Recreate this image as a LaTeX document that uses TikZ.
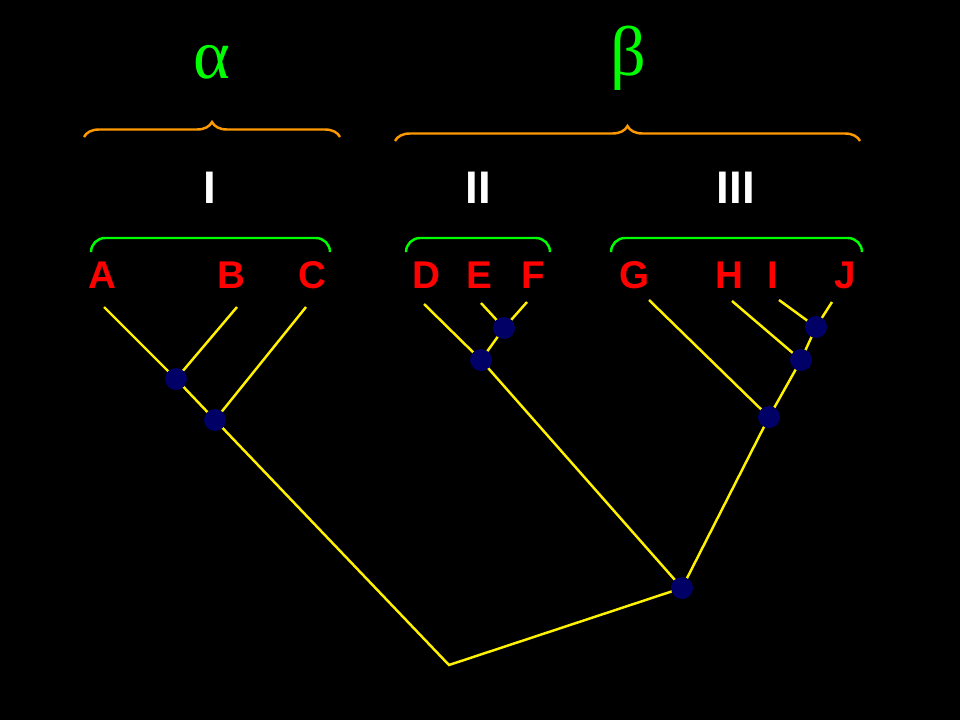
\documentclass[tikz,border=0pt]{standalone}
\usepackage{fontspec}
\setmainfont{Liberation Sans}
\newfontfamily\grk{Liberation Serif}
\usetikzlibrary{decorations.pathreplacing}
\definecolor{navy}{HTML}{000066}
\definecolor{org}{HTML}{FF9900}
\definecolor{grn}{HTML}{00FF00}
\begin{document}
\begin{tikzpicture}[x=0.02cm,y=-0.02cm,
  br/.style={yellow,line width=1.4pt},
  dot/.style={circle,fill=navy,inner sep=0pt,minimum size=0.44cm},
  leaf/.style={text=red,font=\bfseries\fontsize{22}{24}\selectfont},
  num/.style={text=white,font=\bfseries\fontsize{26}{28}\selectfont},
  gb/.style={grn,line width=1.4pt,rounded corners=8pt},
  ob/.style={org,line width=1.4pt,decorate,decoration={brace,amplitude=0.3cm}},
  greek/.style={text=grn,font=\grk\fontsize{40}{44}\selectfont}]
\fill[black] (0,0) rectangle (960,720);
\useasboundingbox (0,0) rectangle (960,720);
\coordinate (a) at (104,307); \coordinate (b) at (237,307); \coordinate (c) at (306,307);
\coordinate (d) at (424,304); \coordinate (e) at (481,303); \coordinate (f) at (527,302);
\coordinate (g) at (649,300); \coordinate (h) at (732,301); \coordinate (i) at (779,300); \coordinate (j) at (832,302);
\coordinate (root) at (449,665);
\coordinate (n1) at (176,379); \coordinate (n2) at (215,420);
\coordinate (n3) at (504,328); \coordinate (n4) at (481,360);
\coordinate (n5) at (816,327); \coordinate (n6) at (801,360); \coordinate (n7) at (769,417);
\coordinate (n8) at (682,588);
\draw[br] (a)--(n1) (b)--(n1) (n1)--(n2) (c)--(n2) (n2)--(root)--(n8);
\draw[br] (e)--(n3) (f)--(n3) (n3)--(n4) (d)--(n4) (n4)--(n8);
\draw[br] (i)--(n5) (j)--(n5) (n5)--(n6) (h)--(n6) (n6)--(n7) (g)--(n7) (n7)--(n8);
\foreach \n in {n1,n2,n3,n4,n5,n6,n7,n8} \node[dot] (d\n) at (\n) {};
\node[leaf] (la) at (102,275) {A}; \node[leaf] (lb) at (231,275) {B}; \node[leaf] (lc) at (312,275) {C};
\node[leaf] (ld) at (426,275) {D}; \node[leaf] (le) at (479,275) {E}; \node[leaf] (lf) at (533,275) {F};
\node[leaf] (lg) at (635,275) {G}; \node[leaf] (lh) at (729,275) {H}; \node[leaf] (li) at (773,275) {I};
\node[leaf] (lj) at (845,275) {J};
\node[num] (r1) at (210,188) {I}; \node[num] (r2) at (478,188) {II}; \node[num] (r3) at (736,188) {III};
\draw[gb] (91,252)--(91,238)--(330,238)--(330,252);
\draw[gb] (406,250)--(406,238)--(550,238)--(550,250);
\draw[gb] (611,252)--(611,238)--(862,238)--(862,252);
\draw[ob] (84,137)--(340,137);
\draw[ob] (395,141)--(860,141);
\node[greek] (al) at (212,62) {α};
\node[greek] (be) at (628,58) {β};
\end{tikzpicture}
\end{document}
